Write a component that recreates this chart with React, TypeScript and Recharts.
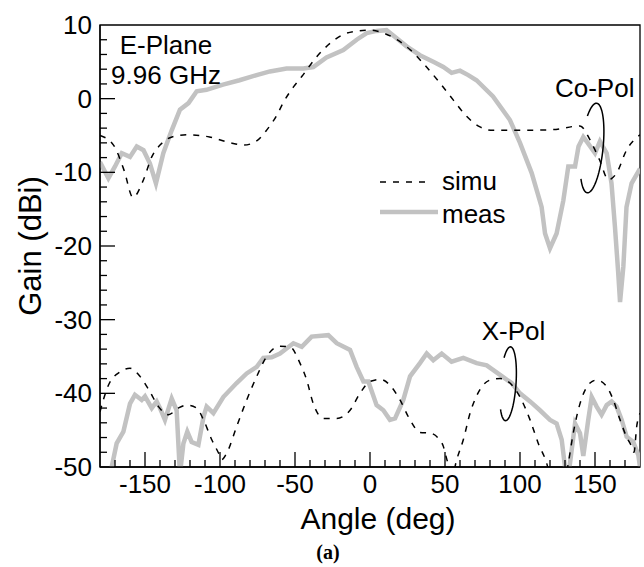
import { LineChart, Line, XAxis, YAxis, ReferenceArea, ReferenceDot, Legend } from 'recharts'

const FONT = '"Liberation Sans", Arial, Helvetica, sans-serif'
const GRAY = '#c2c2c2'

/* co-pol, simulated */
const coSimuAngle = [-180, -171, -164, -158, -151, -145.5, -139, -132, -122, -107, -93, -84, -76, -69, -62, -58, -51, -45.5, -35.5, -26.7, -19, -8, 0, 9, 18, 27, 35.5, 46.7, 55.6, 64.4, 73, 82, 100, 122, 140, 146.7, 153, 159, 164.4, 171, 180]
const coSimuGain = [-5, -6.3, -9.7, -13.4, -11, -7.9, -6.1, -5.2, -4.9, -5.2, -6, -6.3, -5.8, -4.3, -2.2, -0.6, 1.6, 3, 5.7, 7.5, 8.6, 9.2, 9.3, 8.9, 8, 6.6, 4.8, 2.1, -0.2, -2.4, -3.8, -4.3, -4.3, -4.2, -3.7, -5.6, -8.3, -11, -10.1, -7, -4.9]

/* co-pol, measured */
const coMeasAngle = [-180, -174.4, -170, -165.5, -160, -155.5, -151, -146.7, -142.7, -137.8, -132.2, -126.7, -121, -115.5, -109, -98, -87, -75.6, -66.7, -55.6, -44.4, -37.8, -29, -17.8, -8.9, -2.2, 4.4, 11, 17.8, 24.4, 26.7, 33.3, 42.2, 48.9, 54.4, 60, 65.5, 71, 82, 93.3, 100, 107.8, 114.4, 116.7, 120, 124.4, 128.9, 132.2, 136.7, 139, 142.2, 145.5, 150, 153.3, 157.8, 161, 163.3, 165.5, 166.7, 168.9, 171, 174.4, 180]
const coMeasGain = [-8.6, -10.8, -9.2, -7.4, -7.9, -6.5, -7, -8.8, -11.5, -7.4, -4.3, -1.5, -0.6, 1, 1.2, 1.9, 2.5, 3.2, 3.7, 4.1, 4.1, 4.3, 5.6, 6.6, 8, 8.9, 9.2, 9.3, 8.2, 7.1, 6.8, 5.9, 5, 4.3, 3.5, 3.8, 3.2, 2.5, 0.3, -2.9, -6, -10.1, -14.7, -18.3, -20.3, -18.3, -13.8, -9.2, -9.2, -6.5, -5.2, -6.1, -7.4, -5.8, -7.4, -11.5, -17.4, -23.7, -27.6, -22.8, -14.7, -11.5, -9.5]

/* x-pol, simulated */
const xSimuAngle = [-180, -177.8, -174.4, -166.7, -160, -153.3, -146.7, -141, -134.4, -127.8, -122.2, -115.5, -111, -105.5, -101, -99, -95.5, -88.9, -82.2, -75.5, -68.9, -60, -53.3, -46.7, -42.2, -37.8, -31.1, -22.2, -13.3, -6.7, 0, 6.7, 13.3, 20, 26.7, 33.3, 40, 45.5, 48.9, 51, 55, 57.8, 62.2, 66.7, 73.3, 80, 86.7, 93.3, 100, 106.7, 112.2, 117.8, 125, 132.2, 135.5, 140, 146.7, 151, 157.8, 162.2, 166.7, 171, 174.4, 176, 177.8, 180]
const xSimuGain = [-42.5, -40.9, -38.9, -37.1, -36.6, -37.7, -39.8, -41.8, -42.9, -42, -41.6, -42, -43.6, -46.3, -48.1, -49, -48.1, -44.5, -40.9, -37.7, -35, -33.6, -33.7, -35.9, -38.2, -41.4, -43.4, -43.4, -42.3, -40, -38.4, -38.1, -38.9, -40.9, -43.6, -45.3, -45.4, -46.1, -47.2, -48.8, -51, -49, -46.3, -42.7, -39.5, -38.2, -38, -38.6, -40.5, -43.6, -46.8, -49.5, -56, -49.5, -45.4, -41.4, -38.6, -38.2, -39.1, -40.9, -43.6, -45.9, -47.2, -48, -44.5, -42.7]

/* x-pol, measured */
const xMeasAngle = [-175, -172.2, -168.9, -164.4, -160, -156.7, -152.2, -150, -145.5, -142.2, -140, -136.7, -132.2, -128.9, -126.7, -124.4, -121.8, -118.9, -114.4, -111, -108.9, -104.4, -97.8, -88.9, -82.2, -75.5, -71.1, -65.5, -60, -51.1, -45.5, -38.9, -27.8, -22.2, -13.3, -8.9, -4.4, -1.1, 4.4, 8.9, 13.3, 16.7, 22.2, 26.7, 33.3, 37.8, 42.2, 47.8, 54.4, 62.2, 71.1, 77.8, 86.7, 94.4, 100, 106.7, 113.3, 120, 124.4, 127.8, 130, 131, 133, 136.7, 140, 142.2, 145.5, 147.8, 151.1, 154.4, 157.8, 161.1, 164.4, 167.8, 171.1, 175.5, 178.9, 180]
const xMeasGain = [-53, -50, -46.8, -45.2, -41.4, -40.2, -40.9, -40.4, -42, -41.1, -42, -43.6, -40.7, -42.3, -51, -46.8, -45.2, -46.6, -47, -43.2, -41.8, -42.7, -40.5, -38.6, -37.3, -36.4, -35.2, -35.1, -34.6, -33.2, -33.7, -32.3, -32.1, -33.2, -34.1, -36.4, -38.4, -38.4, -41.6, -42.3, -43.6, -43.4, -40.9, -37.7, -35.9, -34.6, -35.5, -34.6, -35.7, -35.2, -35.9, -36.2, -37.5, -38.6, -40, -41.1, -42.3, -43.6, -44.1, -46.3, -50, -51, -50, -44.1, -45.4, -48.5, -43.6, -40.5, -41.8, -42.9, -41.6, -41.1, -41.8, -43.6, -45.9, -46.6, -48.4, -50]

const xTicks = [-170, -160, -150, -140, -130, -120, -110, -100, -90, -80, -70, -60, -50, -40, -30, -20, -10, 0, 10, 20, 30, 40, 50, 60, 70, 80, 90, 100, 110, 120, 130, 140, 150, 160, 170]
const yTicks = [-50, -48, -46, -44, -42, -40, -38, -36, -34, -32, -30, -28, -26, -24, -22, -20, -18, -16, -14, -12, -10, -8, -6, -4, -2, 0, 2, 4, 6, 8, 10]

const toRows = (a: number[], g: number[]) => a.map((x, i) => ({ x, y: g[i] }))

function XTick({ x, y, payload }: any) {
  const v = payload.value
  const major = v % 50 === 0
  return (
    <g>
      <line x1={x} x2={x} y1={y} y2={y - (major ? 15 : 7)} stroke="#000" strokeWidth={1.3} />
      {major && (
        <text x={x} y={y + 26} textAnchor="middle" fontSize={26} fontFamily={FONT} fill="#000">
          {v}
        </text>
      )}
    </g>
  )
}

function YTick({ x, y, payload }: any) {
  const v = payload.value
  const major = v % 10 === 0
  return (
    <g>
      {v > -50 && v < 10 && (
        <line x1={x} x2={x + (major ? 15 : 7)} y1={y} y2={y} stroke="#000" strokeWidth={1.3} />
      )}
      {major && (
        <text x={x - 8} y={y} dy="0.35em" textAnchor="end" fontSize={26} fontFamily={FONT} fill="#000">
          {v}
        </text>
      )}
    </g>
  )
}

// open loop that marks a pair of curves
function Loop({ cx, cy, rx, ry, tilt }: any) {
  const a = (tilt * Math.PI) / 180
  const pts: string[] = []
  for (let i = 0; i <= 60; i++) {
    const t = ((224 + (271 * i) / 60) * Math.PI) / 180
    const ex = rx * Math.cos(t)
    const ey = ry * Math.sin(t)
    pts.push(`${cx + ex * Math.cos(a) - ey * Math.sin(a)},${cy + ex * Math.sin(a) + ey * Math.cos(a)}`)
  }
  return <polyline points={pts.join(' ')} fill="none" stroke="#000" strokeWidth={1.5} />
}

const note = (label: string, anchor: 'start' | 'middle' = 'start') => (p: any) => (
  <text x={p.cx} y={p.cy} textAnchor={anchor} fontSize={26} fontFamily={FONT} fill="#000">
    {label}
  </text>
)

function LegendBox() {
  return (
    <svg width={150} height={72} style={{ display: 'block' }}>
      <line x1={2} x2={52} y1={22} y2={22} stroke="#000" strokeWidth={1.5} strokeDasharray="6 7" />
      <text x={64} y={30} fontSize={26} fontFamily={FONT} fill="#000">simu</text>
      <line x1={2} x2={60} y1={52} y2={52} stroke={GRAY} strokeWidth={4.5} />
      <text x={64} y={63} fontSize={26} fontFamily={FONT} fill="#000">meas</text>
    </svg>
  )
}

export default function App() {
  return (
    <div style={{ position: 'absolute', left: 0, top: 0, width: 644, height: 567, background: '#fff' }}>
      <LineChart width={644} height={567} margin={{ top: 25, right: 4, left: 0, bottom: 0 }}>
        <XAxis
          type="number"
          dataKey="x"
          domain={[-180, 180]}
          ticks={xTicks}
          interval={0}
          allowDataOverflow
          height={100}
          tickSize={0}
          tickMargin={0}
          tick={<XTick />}
          axisLine={{ stroke: '#000', strokeWidth: 1.3 }}
          label={{
            content: () => (
              <g>
                <text x={378} y={529} textAnchor="middle" fontSize={30} fontFamily={FONT} fill="#000">
                  Angle (deg)
                </text>
                <text x={328} y={559} textAnchor="middle" fontSize={20} fontWeight="bold" fontFamily='"Liberation Serif", "Times New Roman", serif' fill="#000">
                  (a)
                </text>
              </g>
            ),
          }}
        />
        <YAxis
          type="number"
          domain={[-50, 10]}
          ticks={yTicks}
          interval={0}
          allowDataOverflow
          width={100}
          tickSize={0}
          tickMargin={0}
          tick={<YTick />}
          axisLine={{ stroke: '#000', strokeWidth: 1.3 }}
          label={{
            content: () => (
              <text x={30} y={246} transform="rotate(-90 30 246)" textAnchor="middle" dominantBaseline="central" fontSize={31} fontFamily={FONT} fill="#000">
                Gain (dBi)
              </text>
            ),
          }}
        />
        <ReferenceArea x1={-180} x2={180} y1={-50} y2={10} fill="none" stroke="#000" strokeWidth={1.3} fillOpacity={0} />
        <Legend
          layout="horizontal"
          align="center"
          verticalAlign="middle"
          wrapperStyle={{ left: 378, top: 160, width: 150, height: 72 }}
          content={() => <LegendBox />}
        />
        <Line data={toRows(coMeasAngle, coMeasGain)} dataKey="y" stroke={GRAY} strokeWidth={4.5} dot={false} isAnimationActive={false} />
        <Line data={toRows(xMeasAngle, xMeasGain)} dataKey="y" stroke={GRAY} strokeWidth={4.5} dot={false} isAnimationActive={false} />
        <Line data={toRows(coSimuAngle, coSimuGain)} type="monotone" dataKey="y" stroke="#000" strokeWidth={1.5} strokeDasharray="6 7" dot={false} isAnimationActive={false} />
        <Line data={toRows(xSimuAngle, xSimuGain)} type="monotone" dataKey="y" stroke="#000" strokeWidth={1.5} strokeDasharray="6 7" dot={false} isAnimationActive={false} />
        <ReferenceDot x={-136} y={6.06} r={0} shape={note('E-Plane', 'middle')} />
        <ReferenceDot x={-136} y={2.0} r={0} shape={note('9.96 GHz', 'middle')} />
        <ReferenceDot x={123.3} y={0.2} r={0} shape={note('Co-Pol')} />
        <ReferenceDot x={74.5} y={-32.8} r={0} shape={note('X-Pol')} />
        <ReferenceDot x={148} y={-6.7} r={0} shape={(p: any) => <Loop cx={p.cx} cy={p.cy} rx={11} ry={45} tilt={6} />} />
        <ReferenceDot x={92} y={-38.7} r={0} shape={(p: any) => <Loop cx={p.cx} cy={p.cy} rx={8} ry={37} tilt={4} />} />
      </LineChart>
    </div>
  )
}
